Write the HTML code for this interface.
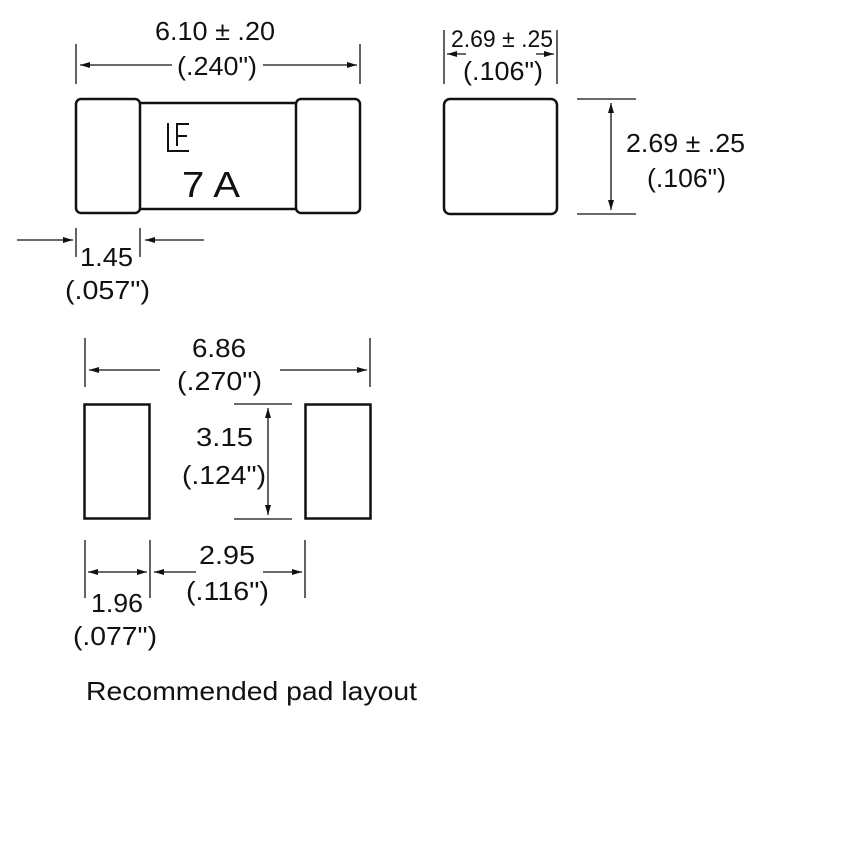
<!DOCTYPE html>
<html><head><style>
html,body{margin:0;padding:0;background:#fff;}
svg{display:block;}
text{font-family:"Liberation Sans",sans-serif;fill:#111;}
</style></head><body>
<svg width="851" height="852" viewBox="0 0 851 852" xmlns="http://www.w3.org/2000/svg">
<defs>
<marker id="a" viewBox="0 0 10 6" refX="10" refY="3" markerWidth="10" markerHeight="6" markerUnits="userSpaceOnUse" orient="auto-start-reverse"><path d="M0,0 L10,3 L0,6 Z" fill="#111"/></marker>
</defs>
<g stroke="#111" fill="none" stroke-width="1.3">
<line x1="76" y1="44" x2="76" y2="84"/><line x1="360" y1="44" x2="360" y2="84"/>
<line x1="172" y1="65" x2="80" y2="65" marker-end="url(#a)"/>
<line x1="263" y1="65" x2="357" y2="65" marker-end="url(#a)"/>
<line x1="76" y1="228" x2="76" y2="257"/><line x1="140" y1="228" x2="140" y2="257"/>
<line x1="17" y1="240" x2="73" y2="240" marker-end="url(#a)"/>
<line x1="204" y1="240" x2="145" y2="240" marker-end="url(#a)"/>
<line x1="444" y1="30" x2="444" y2="84"/><line x1="557" y1="30" x2="557" y2="84"/>
<line x1="466" y1="54" x2="447" y2="54" marker-end="url(#a)"/>
<line x1="536" y1="54" x2="554" y2="54" marker-end="url(#a)"/>
<line x1="577" y1="99" x2="636" y2="99"/><line x1="577" y1="214" x2="636" y2="214"/>
<line x1="611" y1="103" x2="611" y2="210" marker-start="url(#a)" marker-end="url(#a)"/>
<line x1="85" y1="338" x2="85" y2="387"/><line x1="370" y1="338" x2="370" y2="387"/>
<line x1="160" y1="370" x2="89" y2="370" marker-end="url(#a)"/>
<line x1="280" y1="370" x2="367" y2="370" marker-end="url(#a)"/>
<line x1="234" y1="404" x2="292" y2="404"/><line x1="234" y1="519" x2="292" y2="519"/>
<line x1="268" y1="408" x2="268" y2="515" marker-start="url(#a)" marker-end="url(#a)"/>
<line x1="85" y1="540" x2="85" y2="598"/><line x1="150" y1="540" x2="150" y2="598"/><line x1="305" y1="540" x2="305" y2="598"/>
<line x1="88" y1="572" x2="147" y2="572" marker-start="url(#a)" marker-end="url(#a)"/>
<line x1="196" y1="572" x2="154" y2="572" marker-end="url(#a)"/>
<line x1="263" y1="572" x2="302" y2="572" marker-end="url(#a)"/>
</g>
<g stroke="#111" fill="#fff" stroke-width="2.5">
<rect x="138" y="103" width="160" height="106"/>
<rect x="76" y="99" width="64" height="114" rx="5"/>
<rect x="296" y="99" width="64" height="114" rx="5"/>
<rect x="444" y="99" width="113" height="115" rx="6"/>
<rect x="84.5" y="404.5" width="65" height="114"/>
<rect x="305.5" y="404.5" width="65" height="114"/>
</g>
<g stroke="#111" stroke-width="2" fill="none">
<path d="M168,123 V151 H189"/>
<path d="M177,146 V124 H189 M177,136 H187"/>
</g>
<g font-size="26" lengthAdjust="spacingAndGlyphs">
<text x="155" y="40" textLength="120" lengthAdjust="spacingAndGlyphs">6.10 ± .20</text>
<text x="177" y="75" textLength="80" lengthAdjust="spacingAndGlyphs">(.240")</text>
<text x="182" y="197" font-size="36" textLength="58" lengthAdjust="spacingAndGlyphs">7 A</text>
<text x="80" y="266" textLength="53" lengthAdjust="spacingAndGlyphs">1.45</text>
<text x="65" y="299" textLength="85" lengthAdjust="spacingAndGlyphs">(.057")</text>
<text x="451" y="47" font-size="24" textLength="102" lengthAdjust="spacingAndGlyphs">2.69 ± .25</text>
<text x="463" y="80" textLength="80" lengthAdjust="spacingAndGlyphs">(.106")</text>
<text x="626" y="152" textLength="119" lengthAdjust="spacingAndGlyphs">2.69 ± .25</text>
<text x="647" y="187" textLength="79" lengthAdjust="spacingAndGlyphs">(.106")</text>
<text x="192" y="357" textLength="54" lengthAdjust="spacingAndGlyphs">6.86</text>
<text x="177" y="390" textLength="85" lengthAdjust="spacingAndGlyphs">(.270")</text>
<text x="196" y="446" textLength="57" lengthAdjust="spacingAndGlyphs">3.15</text>
<text x="182" y="484" textLength="84" lengthAdjust="spacingAndGlyphs">(.124")</text>
<text x="199" y="564" textLength="56" lengthAdjust="spacingAndGlyphs">2.95</text>
<text x="186" y="600" textLength="83" lengthAdjust="spacingAndGlyphs">(.116")</text>
<text x="91" y="612" textLength="52" lengthAdjust="spacingAndGlyphs">1.96</text>
<text x="73" y="645" textLength="84" lengthAdjust="spacingAndGlyphs">(.077")</text>
<text x="86" y="700" textLength="331" lengthAdjust="spacingAndGlyphs">Recommended pad layout</text>
</g>
</svg>
</body></html>
